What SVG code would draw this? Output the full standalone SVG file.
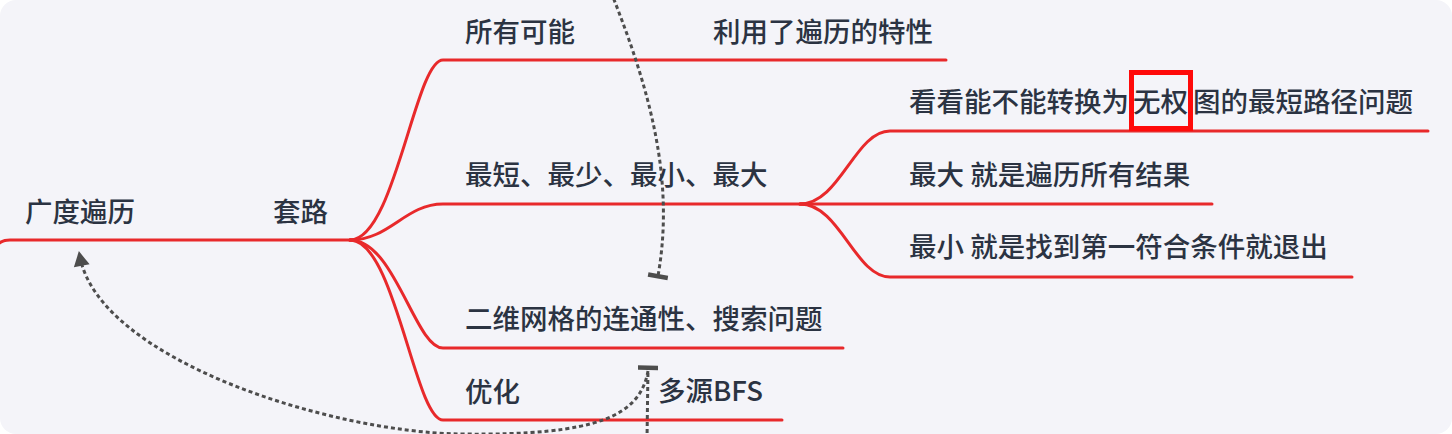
<svg xmlns="http://www.w3.org/2000/svg" width="1452" height="434" viewBox="0 0 1452 434">
<defs>
<style>
.bg{fill:#f4f4f9;}
.br{fill:none;stroke:#e8292b;stroke-width:3;stroke-linecap:round;}
.t{font-family:"Noto Sans CJK SC","Noto Sans",sans-serif;font-size:27.5px;font-weight:500;fill:#2b3342;}
.rel{fill:none;stroke:#4d4d4d;stroke-width:3;stroke-dasharray:4 3;}
.hl{fill:none;stroke:#ff0a0a;stroke-width:5;}
</style>
<marker id="arrow" markerUnits="userSpaceOnUse" markerWidth="20" markerHeight="20" viewBox="-10 -10 20 20" refX="0" refY="0" orient="auto">
<path d="M-9,-8 L6,0 L-9,8 Z" fill="#4d4d4d"/>
</marker>
<marker id="bar" markerUnits="userSpaceOnUse" markerWidth="24" markerHeight="24" viewBox="-12 -12 24 24" refX="0" refY="0" orient="auto">
<rect x="-2" y="-10" width="4.5" height="20" fill="#4d4d4d"/>
</marker>
</defs>
<rect width="1452" height="434" fill="#ffffff"/>
<rect class="bg" x="0" y="0" width="1452" height="434" rx="16" ry="16"/>

<g id="connectors">
<path class="br" d="M-5,250 Q-2,240 10,240 L350,240"/>
<path class="br" d="M350,240 C395,240 415,60 443,60 L946,60"/>
<path class="br" d="M350,240 C390,240 405,204 443,204 L808,204"/>
<path class="br" d="M350,240 C395,240 415,348 443,348 L843,348"/>
<path class="br" d="M350,240 C395,240 415,420 443,420 L782,420"/>
<path class="br" d="M800,204 C840,204 855,131 890,131 L1428,131"/>
<path class="br" d="M800,204 L1212,204"/>
<path class="br" d="M800,204 C840,204 855,277 890,277 L1352,277"/>
<path class="rel" d="M611,-8 C650,90 675,180 658,276" marker-end="url(#bar)"/>
<path class="rel" d="M648,371 C640,415 600,436 460,434 C330,432 100,360 80,257" marker-end="url(#arrow)"/>
<path class="rel" d="M647,440 L648,368" marker-end="url(#bar)"/>
</g>

<g id="root"><text class="t" x="25" y="222">广度遍历</text></g>
<g id="taolu"><text class="t" x="273" y="222">套路</text></g>
<g id="all"><text class="t" x="465" y="42">所有可能</text></g>
<g id="traverse"><text class="t" x="713" y="42">利用了遍历的特性</text></g>
<g id="shortest"><text class="t" x="465" y="185">最短、最少、最小、最大</text></g>
<g id="unweighted">
<text class="t" y="112"><tspan x="909">看看能不能转换为</tspan><tspan x="1133">无权</tspan><tspan x="1193">图的最短路径问题</tspan></text>
<rect class="hl" x="1131.5" y="72.5" width="59" height="56"/>
</g>
<g id="max"><text class="t" x="909" y="185">最大 就是遍历所有结果</text></g>
<g id="min"><text class="t" x="909" y="257">最小 就是找到第一符合条件就退出</text></g>
<g id="grid"><text class="t" x="465" y="329">二维网格的连通性、搜索问题</text></g>
<g id="opt"><text class="t" x="465" y="402">优化</text></g>
<g id="multi"><text class="t" x="658" y="401">多源BFS</text></g>
</svg>
